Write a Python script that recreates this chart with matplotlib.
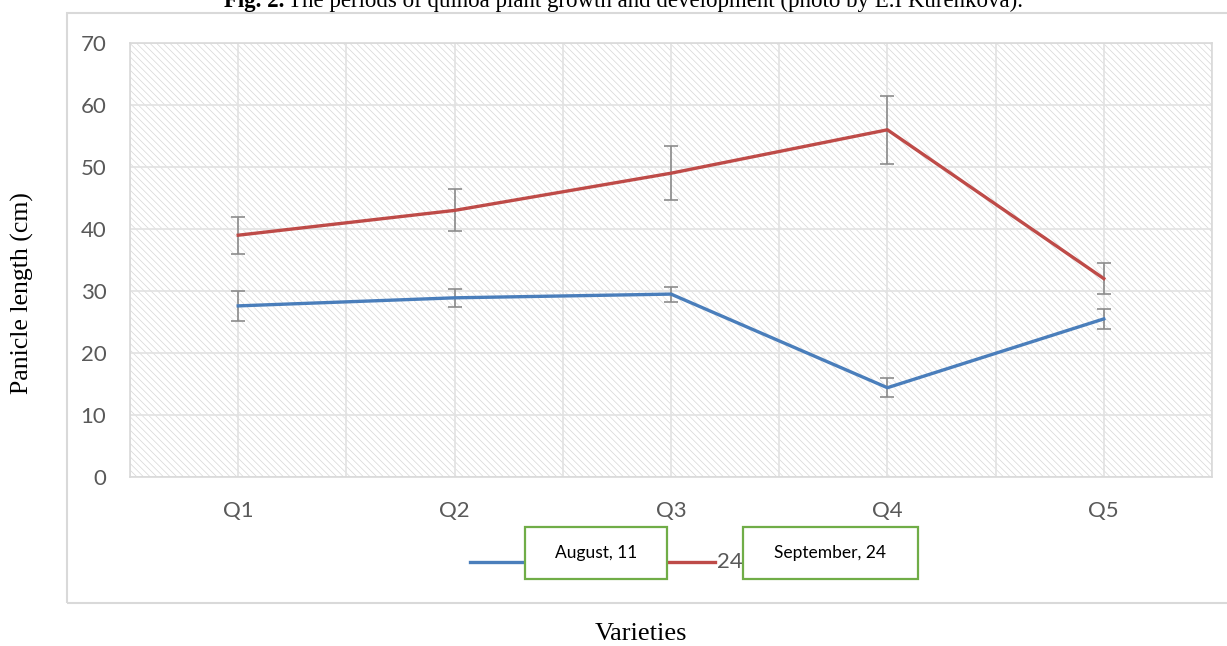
import matplotlib.pyplot as plt
from matplotlib.patches import Rectangle
from matplotlib.lines import Line2D
import numpy as np

varieties = ['Q1', 'Q2', 'Q3', 'Q4', 'Q5']
august = [27.6, 28.9, 29.5, 14.4, 25.5]
august_err = [2.4, 1.4, 1.2, 1.5, 1.6]
september = [39.0, 43.0, 49.0, 56.0, 32.0]
september_err = [3.0, 3.4, 4.4, 5.5, 2.5]

W, H = 1227, 646
plt.rcParams['hatch.linewidth'] = 0.5
plt.rcParams['hatch.color'] = '#d6d6d6'
fig = plt.figure(figsize=(W / 100, H / 100), dpi=100)


def fx(px):
    return px / W


def fy(py):
    return 1 - py / H


# chart frame (right edge runs off the picture)
fig.patches.append(Rectangle((fx(67), fy(603)), fx(1200), fy(13) - fy(603),
                             transform=fig.transFigure, fill=False,
                             edgecolor='#d9d9d9', linewidth=1.5))

ax = fig.add_axes([fx(130), fy(477), fx(1212) - fx(130), fy(43) - fy(477)])
ax.set_xlim(-0.5, 4.5)
ax.set_ylim(0, 70)

# hatched plot area
ax.add_patch(Rectangle((0, 0), 1, 1, transform=ax.transAxes, facecolor='white',
                       edgecolor='#d6d6d6', hatch='\\\\\\\\\\', linewidth=0, zorder=0))

x = np.arange(len(varieties))
ax.set_xticks(x)
ax.set_xticklabels(varieties)
ax.set_xticks(np.arange(-0.5, 5, 1), minor=True)
ax.set_yticks(range(0, 71, 10))
ax.grid(True, which='both', color='#e2e2e2', linewidth=1.2, zorder=1)
ax.set_axisbelow(True)
for s in ax.spines.values():
    s.set_color('#d9d9d9')
    s.set_linewidth(1.2)
ax.tick_params(which='both', length=0)
ax.tick_params(axis='y', pad=17, labelsize=16, labelcolor='#595959')
ax.tick_params(axis='x', pad=17, labelsize=16, labelcolor='#595959')
for lab in ax.get_xticklabels() + ax.get_yticklabels():
    lab.set_family('Lato')

ax.errorbar(x, august, yerr=august_err, color='#4a7ebb', linewidth=2.4,
            ecolor='#8c8c8c', elinewidth=1.2, capsize=5, capthick=1.2, zorder=3)
ax.errorbar(x, september, yerr=september_err, color='#be4b48', linewidth=2.4,
            ecolor='#8c8c8c', elinewidth=1.2, capsize=5, capthick=1.2, zorder=3)

# legend, covered by text boxes
fig.lines.append(Line2D([fx(470), fx(525)], [fy(562), fy(562)], color='#4a7ebb',
                        linewidth=2.4, transform=fig.transFigure))
fig.lines.append(Line2D([fx(667), fx(715)], [fy(562), fy(562)], color='#be4b48',
                        linewidth=2.4, transform=fig.transFigure))
fig.text(fx(717), fy(562), '24', fontsize=16, color='#595959', family='Lato',
         va='center', ha='left')
for (x0, x1, label) in [(525, 667, 'August, 11'), (743, 918, 'September, 24')]:
    fig.patches.append(Rectangle((fx(x0), fy(579)), fx(x1 - x0), fy(527) - fy(579),
                                 transform=fig.transFigure, facecolor='white',
                                 edgecolor='#70ad47', linewidth=1.6, zorder=5))
    fig.text(fx((x0 + x1) / 2), fy(553), label, fontsize=12.5, family='Lato',
             color='black', ha='center', va='center', zorder=6)

fig.text(fx(22), fy(293), 'Panicle length (cm)', rotation=90, fontsize=18.5,
         family='Liberation Serif', ha='center', va='center')
fig.text(fx(641), fy(634), 'Varieties', fontsize=19, family='Liberation Serif',
         ha='center', va='center')

# caption cut off at the top
fig.text(fx(284), fy(1), 'Fig. 2.', fontsize=16.5, family='Liberation Serif',
         fontweight='bold', ha='right', va='center')
fig.text(fx(288), fy(1), 'The periods of quinoa plant growth and development (photo by E.I Kurenkova).',
         fontsize=16.5, family='Liberation Serif', ha='left', va='center')

fig.savefig('out.png', dpi=100)
